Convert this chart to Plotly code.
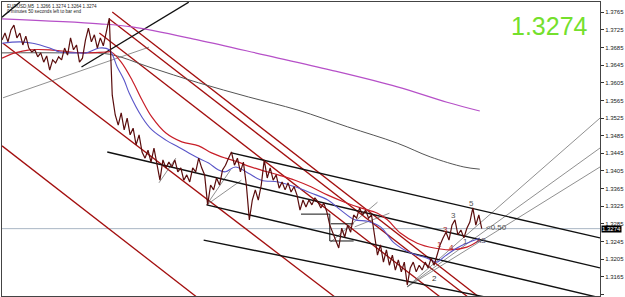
import plotly.graph_objects as go

# ---------------- data (bar index, price) ----------------
price = [1.3702,1.3718,1.3698,1.3725,1.3736,1.3707,1.3718,1.3691,1.3711,1.3684,
1.3675,1.3680,1.3664,1.3673,1.3652,1.3666,1.3634,1.3657,1.3650,1.3664,
1.3657,1.3684,1.3668,1.3707,1.3680,1.3691,1.3652,1.3661,1.3702,1.3729,
1.3698,1.3714,1.3684,1.3707,1.3689,1.3725,1.3752,1.3577,1.3532,1.3509,
1.3537,1.3498,1.3525,1.3487,1.3502,1.3464,1.3487,1.3448,1.3434,1.3452,
1.3425,1.3457,1.3418,1.3384,1.3430,1.3412,1.3425,1.3414,1.3430,1.3403,
1.3412,1.3384,1.3396,1.3380,1.3412,1.3403,1.3434,1.3412,1.3396,1.3328,
1.3373,1.3362,1.3389,1.3373,1.3407,1.3418,1.3434,1.3448,1.3418,1.3434,
1.3403,1.3425,1.3373,1.3294,1.3339,1.3362,1.3339,1.3373,1.3430,1.3389,
1.3412,1.3384,1.3396,1.3366,1.3380,1.3362,1.3378,1.3357,1.3369,1.3350,
1.3316,1.3339,1.3323,1.3339,1.3328,1.3344,1.3335,1.3321,1.3332,1.3312,
1.3282,1.3266,1.3248,1.3230,1.3275,1.3255,1.3282,1.3266,1.3305,1.3298,
1.3321,1.3305,1.3316,1.3298,1.3305,1.3260,1.3214,1.3237,1.3198,1.3226,
1.3191,1.3214,1.3180,1.3203,1.3176,1.3198,1.3146,1.3185,1.3198,1.3176,
1.3191,1.3180,1.3198,1.3185,1.3207,1.3191,1.3214,1.3237,1.3253,1.3266,
1.3248,1.3282,1.3294,1.3260,1.3271,1.3253,1.3275,1.3289,1.3321,1.3282,
1.3305,1.3274]
bars = list(range(len(price)))

blue_ma_x = [0,6,10.33,16,19.33,25,28.33,32.67,36,38.67,41,42.67,47,50.33,55,59.33,65,69.33,72.67,75,
             78.33,82.67,87,92.67,98.33,103.67,109.33,113.67,118.33,122.67,127,131.67,137,142.67,146,148.33,152.67,156,160.33]
blue_ma_y = [1.3695,1.3698,1.3695,1.3684,1.3675,1.3673,1.3673,1.3684,1.3680,1.3641,1.3611,1.3582,1.3527,1.3498,1.3475,1.3459,1.3437,1.3423,1.3407,1.3403,
             1.3414,1.3400,1.3384,1.3380,1.3369,1.3355,1.3339,1.3316,1.3294,1.3291,1.3278,1.3241,1.3219,1.3207,1.3198,1.3210,1.3230,1.3241,1.3253]

red_ma_x = [0,4.33,9.33,16,27,35,36.67,40,43.67,47,50.33,55,60.33,66,70.33,75,79.33,82.67,87,92.67,98.33,103.67,
            109.33,115,120.33,126,129.33,133.67,139.33,145,150.33,156,160.33]
red_ma_y = [1.3661,1.3673,1.3680,1.3680,1.3673,1.3675,1.3675,1.3652,1.3611,1.3566,1.3527,1.3491,1.3471,1.3462,1.3446,1.3434,1.3425,1.3416,1.3407,1.3396,1.3384,1.3369,
            1.3350,1.3334,1.3321,1.3309,1.3294,1.3264,1.3241,1.3230,1.3226,1.3232,1.3248]

gray_ma_x = [0,19.33,36,49.33,66,82.67,99.33,116,132.67,143.67,155,160.33]
gray_ma_y = [1.3673,1.3673,1.3670,1.3641,1.3605,1.3573,1.3543,1.3505,1.3468,1.3437,1.3414,1.3409]

magenta_ma_x = [0,32.67,43.67,66,88.33,110.33,132.67,149.33,160.33]
magenta_ma_y = [1.3750,1.3739,1.3732,1.3702,1.3668,1.3634,1.3596,1.3561,1.3541]

# trend objects as ((bar0, price0), (bar1, price1))
red_lines = [((37, 1.3766), (160, 1.3119)),
             ((36, 1.3750), (156.33, 1.3119)),
             ((32.67, 1.3718), (147, 1.3119)),
             ((0.33, 1.3695), (111.67, 1.3119)),
             ((0, 1.3462), (65.3, 1.3119))]
black_lines = [((26.67, 1.3641), (62.67, 1.3788)),
               ((0, 1.3754), (6, 1.3788)),
               ((77, 1.3446), (200.67, 1.3253)),
               ((35.33, 1.3448), (200.67, 1.3185)),
               ((68.67, 1.3328), (200.67, 1.3117)),
               ((67.67, 1.3248), (162, 1.3119))]
box_x = [100.33, 110, 110, 118]
box_y = [1.3307, 1.3307, 1.3246, 1.3246]
box2_x = [110.33, 118]
box2_y = [1.3285, 1.3285]
thin_lines = [((0.33, 1.3571), (49.33, 1.3686)),
              ((136, 1.3142), (200.67, 1.3525)),
              ((136, 1.3142), (200.67, 1.3457)),
              ((136, 1.3142), (200.67, 1.3414)),
              ((52.67, 1.3378), (58.33, 1.3434)),
              ((68.67, 1.3328), (80.33, 1.3384)),
              ((68.67, 1.3328), (76.67, 1.3407)),
              ((110.33, 1.3244), (126, 1.3334)),
              ((118.33, 1.3278), (130, 1.3309))]

current = 1.3274
tick_vals = [1.3125 + 0.004 * k for k in range(17)]
tick_text = ["%.4f" % v for v in tick_vals]
wave_labels = [(145, 1.3160, "2", "#333333"), (157.67, 1.3330, "5", "#555555"),
               (151.67, 1.3303, "3", "#555555"), (148.67, 1.3272, "3", "#aa2222"),
               (146.67, 1.3237, "1", "#aa2222"), (150.67, 1.3232, "4", "#aa2222"),
               (155.67, 1.3244, "1", "#555577"), (160.7, 1.3248, "A3", "#555577"),
               (166, 1.3276, "<0.50", "#555555")]

# ---------------- figure ----------------
fig = go.Figure()

def seg(p0, p1, color, width):
    fig.add_trace(go.Scatter(x=[p0[0], p1[0]], y=[p0[1], p1[1]], mode="lines",
                             line=dict(color=color, width=width), hoverinfo="skip"))

fig.add_trace(go.Scatter(x=[0, 200.67], y=[current, current], mode="lines",
                         line=dict(color="#a9b6c4", width=1), hoverinfo="skip"))
for a, b in red_lines:
    seg(a, b, "#a30f0f", 1.3)
for a, b in thin_lines:
    seg(a, b, "#606060", 0.7)
for a, b in black_lines:
    seg(a, b, "#111111", 1.4)
fig.add_trace(go.Scatter(x=box_x, y=box_y, mode="lines", line=dict(color="#111111", width=1)))
fig.add_trace(go.Scatter(x=box2_x, y=box2_y, mode="lines", line=dict(color="#111111", width=1)))

fig.add_trace(go.Scatter(x=magenta_ma_x, y=magenta_ma_y, mode="lines", line=dict(color="#b650c8", width=1.2, shape="spline")))
fig.add_trace(go.Scatter(x=gray_ma_x, y=gray_ma_y, mode="lines", line=dict(color="#555555", width=1, shape="spline")))
fig.add_trace(go.Scatter(x=red_ma_x, y=red_ma_y, mode="lines", line=dict(color="#c81e28", width=1.2, shape="spline")))
fig.add_trace(go.Scatter(x=blue_ma_x, y=blue_ma_y, mode="lines", line=dict(color="#5a55c8", width=1.1, shape="spline")))
fig.add_trace(go.Scatter(x=bars, y=price, mode="lines", line=dict(color="#5a0d0d", width=1.2)))

for bx, by, t, c in wave_labels:
    fig.add_annotation(x=bx, y=by, text=t, showarrow=False, xref="x", yref="y",
                       font=dict(size=8, color=c, family="Liberation Sans"))

fig.add_annotation(x=0, y=1, xref="paper", yref="paper", xanchor="left", yanchor="top",
                   text="EURUSD,M5  1.3266 1.3274 1.3264 1.3274", showarrow=False,
                   xshift=3, yshift=0, font=dict(size=4.6, color="#222222", family="Liberation Sans"))
fig.add_annotation(x=0, y=1, xref="paper", yref="paper", xanchor="left", yanchor="top",
                   text="0 minutes 50 seconds left to bar end", showarrow=False,
                   xshift=3, yshift=-5, font=dict(size=4.6, color="#222222", family="Liberation Sans"))
fig.add_annotation(x=0.915, y=1.3733, xref="paper", yref="y", xanchor="center", yanchor="middle",
                   text="1.3274", showarrow=False,
                   font=dict(size=25, color="#74e02c", family="Liberation Sans"))
fig.add_annotation(x=1, y=current, xref="paper", yref="y", xanchor="left", text="1.3274",
                   showarrow=False, bgcolor="#000000", borderpad=0, xshift=1,
                   font=dict(size=6, color="#ffffff", family="Liberation Sans"))

fig.update_layout(
    width=625, height=297, showlegend=False,
    margin=dict(l=2, r=21, t=2, b=1),
    paper_bgcolor="white", plot_bgcolor="white",
    xaxis=dict(range=[0, 200.67], showticklabels=False, showgrid=False, zeroline=False,
               showline=True, mirror=True, linecolor="#444444", linewidth=1, ticks=""),
    yaxis=dict(range=[1.31211, 1.37885], side="right", tickvals=tick_vals, ticktext=tick_text,
               ticks="outside", ticklen=3, tickcolor="#333333", showgrid=False, zeroline=False,
               showline=True, mirror=True, linecolor="#444444", linewidth=1,
               tickfont=dict(size=6, color="#222222", family="Liberation Sans")),
)

fig.write_html("out.html")
